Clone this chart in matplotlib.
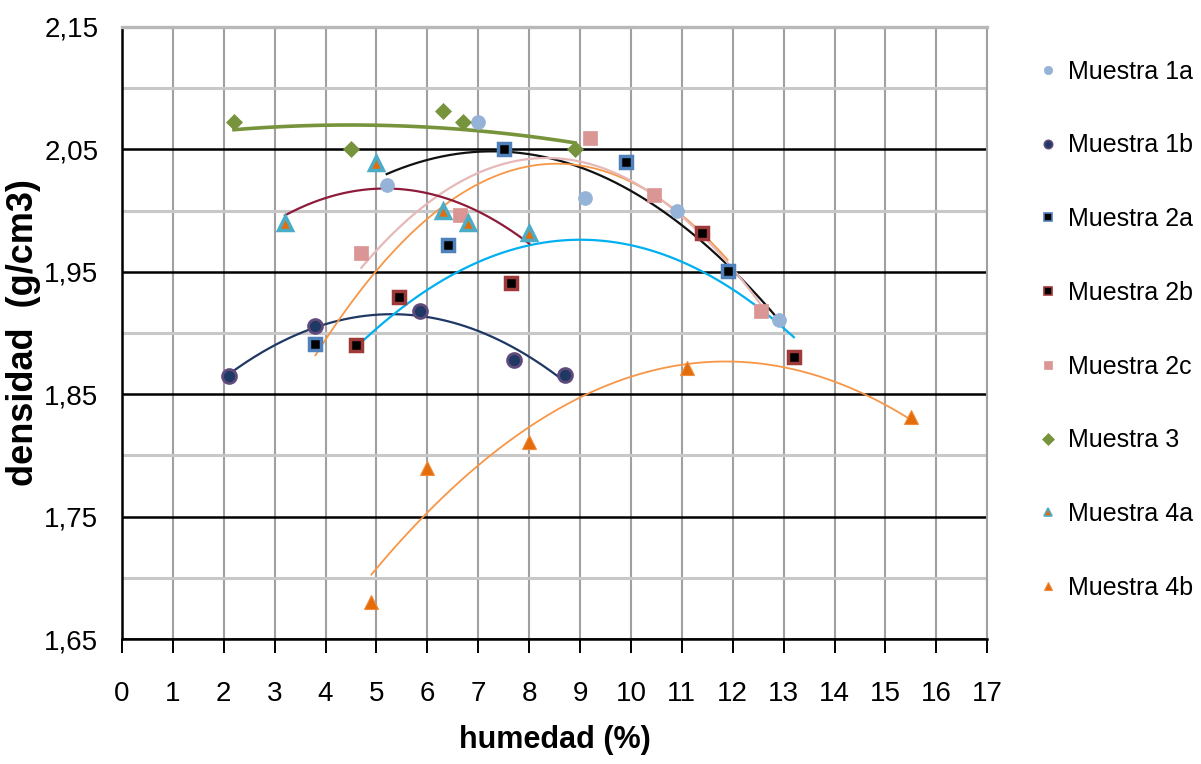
# %%
# * Import packages
import numpy as np
import matplotlib
matplotlib.use("Agg")
import matplotlib.pyplot as plt
from matplotlib.lines import Line2D

# %%
# * 1. Data (humedad %, densidad g/cm3)
x_1a = [5.2, 7.0, 9.1, 10.9, 12.9]
y_1a = [2.021, 2.072, 2.010, 2.000, 1.911]
x_1b = [2.1, 3.8, 5.85, 7.7, 8.7]
y_1b = [1.865, 1.906, 1.918, 1.878, 1.866]
x_2a = [3.8, 6.4, 7.5, 9.9, 11.9]
y_2a = [1.891, 1.972, 2.050, 2.040, 1.951]
x_2b = [4.6, 5.45, 7.65, 11.4, 13.2]
y_2b = [1.890, 1.929, 1.941, 1.982, 1.880]
x_2c = [4.7, 6.65, 9.2, 10.45, 12.55]
y_2c = [1.965, 1.996, 2.059, 2.013, 1.918]
x_3 = [2.2, 4.5, 6.3, 6.7, 8.9]
y_3 = [2.072, 2.050, 2.081, 2.072, 2.050]
x_4a = [3.2, 5.0, 6.3, 6.8, 8.0]
y_4a = [1.990, 2.039, 2.000, 1.990, 1.982]
x_4b = [4.9, 6.0, 8.0, 11.1, 15.5]
y_4b = [1.680, 1.790, 1.811, 1.871, 1.831]

labels = ["Muestra 1a", "Muestra 1b", "Muestra 2a", "Muestra 2b",
          "Muestra 2c", "Muestra 3", "Muestra 4a", "Muestra 4b"]
x_ticks = list(range(0, 18))
y_ticks = [1.65, 1.75, 1.85, 1.95, 2.05, 2.15]
y_ticklabels = ["1,65", "1,75", "1,85", "1,95", "2,05", "2,15"]

# %%
# * 2. Styles per series: (marker, face, edge, edge width, size, trend colour, trend width)
series = [
    (x_1a, y_1a, "o", "#95B3D7", "#95B3D7", 0.5, 10, "#111111", 1.6),
    (x_1b, y_1b, "o", "#1F3864", "#604A7B", 2.0, 10, "#1F3864", 1.6),
    (x_2a, y_2a, "s", "#000000", "#4F81BD", 2.5, 9, "#F79646", 1.3),
    (x_2b, y_2b, "s", "#000000", "#A0393A", 2.5, 9, "#00B0F0", 1.6),
    (x_2c, y_2c, "s", "#D99694", "#D99694", 0.5, 10, "#E6B9B8", 1.6),
    (x_3, y_3, "D", "#77933C", "#77933C", 0.5, 8, "#77933C", 2.6),
    (x_4a, y_4a, "^", "#E46C0A", "#4BACC6", 2.5, 10, "#8E1B3A", 1.6),
    (x_4b, y_4b, "^", "#E46C0A", "#F08C3C", 0.8, 10, "#F79646", 1.3),
]

# %%
# * 3. Plot
fig = plt.figure(figsize=(12.01, 7.64), dpi=100)
ax = fig.add_axes([0.1016, 0.1636, 0.7204, 0.8011])

handles = []
for xs, ys, mk, fc, ec, ew, ms, tc, tw in series:
    # second order trendline, like the spreadsheet one
    coef = np.polyfit(xs, ys, 2)
    xx = np.linspace(min(xs), max(xs), 200)
    ax.plot(xx, np.polyval(coef, xx), color=tc, lw=tw, zorder=3)
    ax.plot(xs, ys, ls="none", marker=mk, mfc=fc, mec=ec, mew=ew, ms=ms, zorder=4)
    handles.append(Line2D([], [], ls="none", marker=mk, mfc=fc, mec=ec,
                          mew=min(ew, 1.2), ms=6))

ax.set_xlim(0, 17)
ax.set_ylim(1.65, 2.15)
ax.set_xticks(x_ticks)
ax.set_yticks(y_ticks)
ax.set_yticklabels(y_ticklabels)
ax.set_yticks(np.arange(1.70, 2.15, 0.1), minor=True)

ax.grid(axis="x", color="#A0A0A0", lw=1.5)
ax.grid(axis="y", which="major", color="#000000", lw=1.8)
ax.grid(axis="y", which="minor", color="#C8C8C8", lw=2.2)
ax.set_axisbelow(True)

for side in ["left", "bottom"]:
    ax.spines[side].set_color("black")
    ax.spines[side].set_linewidth(1.8)
ax.spines["top"].set_color("#B8B8B8")
ax.spines["top"].set_linewidth(2.4)
ax.spines["right"].set_color("#A0A0A0")
ax.spines["right"].set_linewidth(1.5)

tick_font = ["Liberation Sans", "DejaVu Sans"]
ax.tick_params(axis="x", which="major", direction="out", length=10, width=1.4,
               color="black", pad=20)
ax.tick_params(axis="y", which="both", length=0, pad=17)
for lab in ax.get_xticklabels() + ax.get_yticklabels():
    lab.set_family(tick_font)
    lab.set_fontsize(20)

ax.set_xlabel("humedad (%)", family=tick_font, fontweight="bold", fontsize=22)
ax.xaxis.set_label_coords(0.5, -0.14)
ax.set_ylabel("densidad  (g/cm3)", family=tick_font, fontweight="bold", fontsize=26)
ax.yaxis.set_label_coords(-0.094, 0.5)

fig.legend(handles, labels, loc="upper left", bbox_to_anchor=(0.8455, 0.9514),
           frameon=False, prop={"family": tick_font, "size": 18},
           handlelength=0.8, handletextpad=0.4, labelspacing=1.99)

# %%
# * 4. Save file into png format
fig.savefig("out.png", dpi=100)
